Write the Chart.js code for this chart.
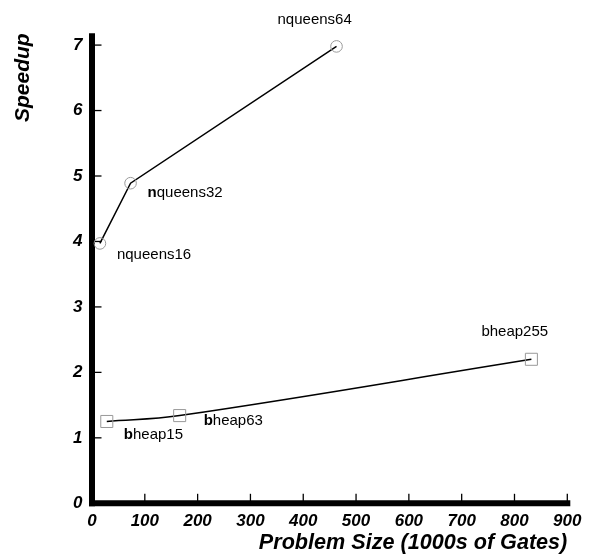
<!DOCTYPE html>
<html>
<head>
<meta charset="utf-8">
<script src="https://cdn.jsdelivr.net/npm/chart.js@4/dist/chart.umd.min.js"></script>
<style>
html,body{margin:0;padding:0;background:#fff;}
#wrap{width:594px;height:559px;position:relative;}
</style>
</head>
<body>
<div id="wrap"><canvas id="c" width="594" height="559"></canvas></div>
<script>
// ---- data ----
const nqueensSize    = [15, 73, 463];
const nqueensSpeedup = [3.97, 4.89, 6.98];
const nqueensNames   = ['nqueens16', 'nqueens32', 'nqueens64'];

const bheapSize    = [28, 166, 832];
const bheapSpeedup = [1.25, 1.34, 2.20];
const bheapNames   = ['bheap15', 'bheap63', 'bheap255'];

const xTickValues = [0, 100, 200, 300, 400, 500, 600, 700, 800, 900];
const yTickValues = [0, 1, 2, 3, 4, 5, 6, 7];

const FAMILY = '"Liberation Sans", Arial, Helvetica, sans-serif';

function toPoints(xs, ys) { return xs.map((x, i) => ({ x: x, y: ys[i] })); }

const axesPlugin = {
  id: 'axesPlugin',
  beforeDatasetsDraw(chart) {
    const { ctx, chartArea: a, scales: { x, y } } = chart;
    ctx.save();
    ctx.strokeStyle = '#000';
    ctx.lineWidth = 1.3;
    x.ticks.forEach(t => {
      if (t.value === 0) return;
      const px = x.getPixelForValue(t.value);
      ctx.beginPath(); ctx.moveTo(px, a.bottom); ctx.lineTo(px, a.bottom - 9.5); ctx.stroke();
    });
    y.ticks.forEach(t => {
      if (t.value === 0) return;
      const py = y.getPixelForValue(t.value);
      ctx.beginPath(); ctx.moveTo(a.left, py); ctx.lineTo(a.left + 9.5, py); ctx.stroke();
    });
    ctx.lineWidth = 6;
    ctx.lineJoin = 'miter';
    ctx.lineCap = 'butt';
    // y axis: from top of chart area down to the x axis
    ctx.beginPath();
    ctx.moveTo(a.left, a.top);
    ctx.lineTo(a.left, a.bottom + 3);
    ctx.stroke();
    // x axis: square end on the right
    ctx.lineCap = 'square';
    ctx.beginPath();
    ctx.moveTo(a.left, a.bottom);
    ctx.lineTo(a.right, a.bottom);
    ctx.stroke();
    ctx.restore();
  }
};

const labelPlugin = {
  id: 'pointLabels',
  afterDatasetsDraw(chart, args, opts) {
    const ctx = chart.ctx;
    ctx.save();
    ctx.fillStyle = '#000';
    ctx.textBaseline = 'middle';
    ctx.textAlign = 'left';
    chart.data.datasets.forEach((ds, di) => {
      const meta = chart.getDatasetMeta(di);
      meta.data.forEach((el, i) => {
        const name = ds.pointNames[i];
        const off = opts.offsets[di][i];
        let px = el.x + off[0];
        const py = el.y + off[1];
        if (opts.boldFirst[di][i]) {
          ctx.font = 'bold ' + opts.size + 'px ' + FAMILY;
          ctx.fillText(name[0], px, py);
          px += ctx.measureText(name[0]).width;
          ctx.font = opts.size + 'px ' + FAMILY;
          ctx.fillText(name.slice(1), px, py);
        } else {
          ctx.font = opts.size + 'px ' + FAMILY;
          ctx.fillText(name, px, py);
        }
      });
    });
    ctx.restore();
  }
};

const tickFont = { family: FAMILY, size: 17, weight: 'bold', style: 'italic' };
const xTitleFont = { family: FAMILY, size: 21.6, weight: 'bold', style: 'italic' };
const yTitleFont = { family: FAMILY, size: 21, weight: 'bold', style: 'italic' };

new Chart(document.getElementById('c'), {
  type: 'line',
  data: {
    datasets: [
      {
        label: 'nqueens',
        data: toPoints(nqueensSize, nqueensSpeedup),
        pointNames: nqueensNames,
        borderColor: '#000',
        borderWidth: 1.5,
        tension: 0,
        pointStyle: 'circle',
        pointRadius: 5.8,
        pointBorderWidth: 1,
        pointBorderColor: '#999',
        pointBackgroundColor: 'rgba(0,0,0,0)',
        clip: false
      },
      {
        label: 'bheap',
        data: toPoints(bheapSize, bheapSpeedup),
        pointNames: bheapNames,
        borderColor: '#000',
        borderWidth: 1.5,
        tension: 0.4,
        pointStyle: 'rect',
        pointRadius: 8.5,
        pointBorderWidth: 1,
        pointBorderColor: '#999',
        pointBackgroundColor: 'rgba(0,0,0,0)',
        clip: false
      }
    ]
  },
  options: {
    responsive: false,
    animation: false,
    devicePixelRatio: 1,
    layout: { padding: { top: 33.3, right: 26.7, bottom: 0, left: 0 } },
    plugins: {
      legend: { display: false },
      tooltip: { enabled: false },
      pointLabels: {
        size: 15,
        offsets: [
          [[17, 11], [17, 10], [-59, -27]],
          [[17, 13], [24, 5], [-50, -27]]
        ],
        boldFirst: [
          [false, true, false],
          [true, true, false]
        ]
      }
    },
    scales: {
      x: {
        type: 'linear',
        position: 'bottom',
        min: 0,
        max: 900,
        afterFit(s) { s.height = 55.7; },
        afterBuildTicks(s) { s.ticks = xTickValues.map(v => ({ value: v })); },
        grid: { display: false, drawTicks: false },
        border: { display: false },
        ticks: { color: '#000', font: tickFont, padding: 7.5, maxRotation: 0, autoSkip: false },
        title: { display: true, text: 'Problem Size (1000s of Gates)', align: 'end', color: '#000', font: xTitleFont, padding: { top: 0, bottom: 3.3 } }
      },
      y: {
        type: 'linear',
        position: 'left',
        min: 0,
        max: 7.18,
        afterFit(s) { s.width = 92; },
        afterBuildTicks(s) { s.ticks = yTickValues.map(v => ({ value: v })); },
        grid: { display: false, drawTicks: false },
        border: { display: false },
        ticks: { color: '#000', font: tickFont, padding: 9.5, autoSkip: false },
        title: { display: true, text: 'Speedup', align: 'end', color: '#000', font: yTitleFont, padding: { top: 11.1, bottom: 0 } }
      }
    }
  },
  plugins: [axesPlugin, labelPlugin]
});
</script>
</body>
</html>
